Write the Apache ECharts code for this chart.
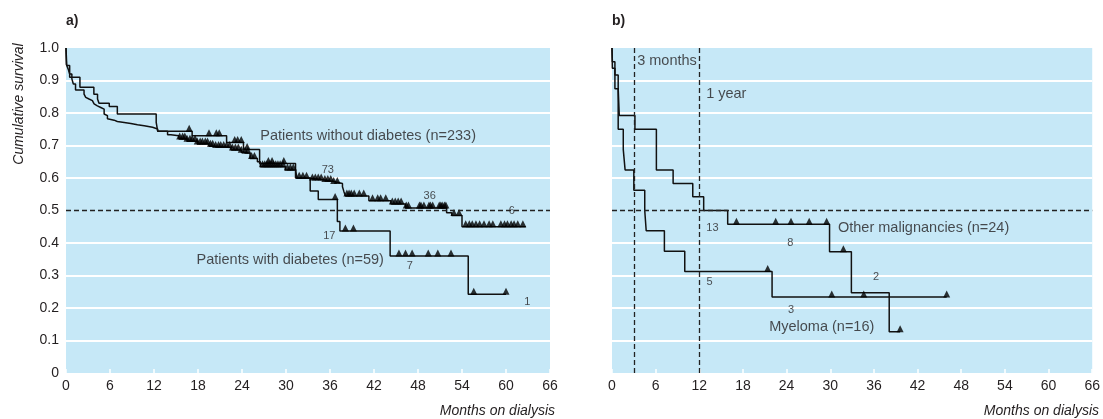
<!DOCTYPE html>
<html>
<head>
<meta charset="utf-8">
<script src="https://cdn.jsdelivr.net/npm/echarts@6/dist/echarts.min.js"></script>
<style>
html,body{margin:0;padding:0;background:#fff;}
#chart{width:1103px;height:419px;}
</style>
</head>
<body>
<div id="chart"></div>
<script>
// ---------------- DATA ----------------
const xTicks = [0, 6, 12, 18, 24, 30, 36, 42, 48, 54, 60, 66];
const yTicks = [0, 0.1, 0.2, 0.3, 0.4, 0.5, 0.6, 0.7, 0.8, 0.9, 1.0];

// Panel a: patients without diabetes (n=233) — [month, cumulative survival]
const noDiabSteps = [
  [0,1.0],[0.05,0.949],[0.3,0.935],[0.5,0.92],[0.8,0.905],[1.0,0.889],[1.3,0.871],
  [2.46,0.858],[2.69,0.848],[2.92,0.843],[3.14,0.838],[3.6,0.833],[3.83,0.828],
  [4.06,0.822],[4.28,0.817],[4.74,0.812],[5.2,0.797],[5.42,0.792],[5.65,0.782],
  [5.88,0.778],[6.56,0.774],[7.0,0.771],[7.93,0.768],[8.84,0.764],[9.75,0.761],
  [10.66,0.756],[11.8,0.751],[12.5,0.744],[13.85,0.733],[14.3,0.73],[15.4,0.72],
  [16.5,0.713],[17.9,0.705],[19.5,0.698],[20.2,0.694],[22.5,0.686],[23.9,0.679],
  [24.2,0.676],[25.1,0.66],[26.1,0.65],[26.5,0.635],[29.9,0.625],[31.3,0.62],
  [31.5,0.599],[33.3,0.594],[35.2,0.589],[36.5,0.583],[37.7,0.573],[37.9,0.558],
  [38.1,0.545],[41.3,0.53],[44.3,0.52],[46.3,0.508],[51.9,0.493],[52.6,0.485],
  [54.0,0.45],[62.7,0.45]
];
const noDiabCensored = [
  15.5,15.9,16.2,16.5,16.9,17.2,17.6,17.9,18.3,18.6,19.0,19.3,19.7,20.0,20.4,20.8,
  21.1,21.5,21.9,22.3,22.7,23.1,23.5,23.9,24.4,24.8,25.3,25.7,26.8,27.1,27.4,27.7,
  28.0,28.3,28.6,28.9,29.2,29.6,30.2,30.6,31.0,31.8,32.3,32.8,33.6,34.0,34.4,34.8,
  35.3,35.7,36.1,36.5,37.0,38.3,38.6,38.9,39.3,40.0,40.6,41.8,42.5,42.9,43.6,44.5,
  44.9,45.3,45.7,46.4,46.7,48.2,48.4,48.8,49.5,49.7,50.0,50.9,51.1,51.3,51.6,51.8,
  52.9,53.6,54.5,55.0,55.4,55.9,56.4,57.0,57.7,58.2,59.3,59.8,60.2,60.7,61.1,61.6,62.3
];

// Panel a: patients with diabetes (n=59)
const diabSteps = [
  [0,1.0],[0.1,0.946],[0.5,0.91],[1.9,0.879],[3.8,0.858],[4.3,0.843],[4.5,0.83],
  [5.9,0.82],[7.0,0.797],[12.3,0.771],[12.5,0.744],[17.2,0.73],[21.9,0.709],
  [24.2,0.688],[26.4,0.645],[31.3,0.6],[33.3,0.56],[34.4,0.534],[37.0,0.466],
  [37.35,0.437],[44.2,0.36],[54.85,0.242],[60.0,0.242]
];
const diabCensored = [16.8,19.5,20.5,20.9,23.0,23.4,23.9,24.7,27.6,28.1,29.7,36.7,38.1,39.2,45.4,46.3,47.2,49.4,50.7,52.5,55.6,60.0];

// Panel b: other malignancies (n=24)
const otherSteps = [
  [0,1.0],[0.05,0.958],[0.4,0.917],[0.85,0.875],[1.0,0.792],[3.15,0.75],[6.1,0.625],
  [8.4,0.583],[11.1,0.542],[12.6,0.5],[15.9,0.458],[29.9,0.373],[32.9,0.247],
  [38.1,0.127],[39.6,0.127]
];
const otherCensored = [17.1,22.5,24.6,27.1,29.5,31.8,39.6];

// Panel b: myeloma (n=16)
const myelomaSteps = [
  [0,1.0],[0.05,0.9375],[0.4,0.875],[0.85,0.75],[1.55,0.6875],[1.8,0.625],[3.0,0.5625],
  [4.5,0.5],[4.7,0.4375],[7.2,0.375],[10.0,0.3125],[22.0,0.234],[46.0,0.234]
];
const myelomaCensored = [21.4,30.2,34.6,46.0];

// Reference lines
const medianLine = 0.5;
const milestoneMonths = [3, 12];

// Annotations: [month, survival, text, align, size]
const annotationsA = [
  [26.5,0.728,'Patients without diabetes (n=233)','left',14.5],
  [35.7,0.624,'73','center',11],
  [49.6,0.544,'36','center',11],
  [60.8,0.498,'6','center',11],
  [35.9,0.423,'17','center',11],
  [17.8,0.349,'Patients with diabetes (n=59)','left',14.5],
  [46.9,0.33,'7','center',11],
  [62.9,0.22,'1','center',11]
];
const annotationsB = [
  [3.46,0.959,'3 months','left',14.5],
  [12.94,0.86,'1 year','left',14.5],
  [13.8,0.447,'13','center',11],
  [31.06,0.447,'Other malignancies (n=24)','left',14.5],
  [24.5,0.40,'8','center',11],
  [36.3,0.297,'2','center',11],
  [13.4,0.279,'5','center',11],
  [24.6,0.194,'3','center',11],
  [21.6,0.143,'Myeloma (n=16)','left',14.5]
];

// ---------------- CHART ----------------
const FONT = "'Liberation Sans',Arial,Helvetica,sans-serif";
const TXT = '#231f20';
const BLUE = '#c6e8f7';

function valueAt(steps, t) {
  let v = steps[0][1];
  for (const [x, y] of steps) { if (x <= t + 1e-9) v = y; else break; }
  return v;
}
function censorPoints(steps, times) { return times.map(t => [t, valueAt(steps, t)]); }

const splitColors = yTicks.map(v => (Math.abs(v - medianLine) < 1e-9 || v >= 1 || v === 0) ? 'rgba(0,0,0,0)' : '#ffffff');

function makeX(idx) {
  return {
    gridIndex: idx, type: 'value', min: xTicks[0], max: xTicks[xTicks.length-1], interval: 6,
    axisLine: {show: false},
    axisTick: {show: true, inside: true, length: 4, lineStyle: {color: '#ffffff', width: 1.5}},
    axisLabel: {show: true, color: TXT, fontFamily: FONT, fontSize: 14, margin: 6},
    splitLine: {show: false}
  };
}
function makeY(idx, showLabels) {
  return {
    gridIndex: idx, type: 'value', min: 0, max: 1, interval: 0.1,
    axisLine: {show: false}, axisTick: {show: false},
    axisLabel: {show: showLabels, color: TXT, fontFamily: FONT, fontSize: 14, margin: 7,
      formatter: v => v === 0 ? '0' : v.toFixed(1)},
    splitLine: {show: true, lineStyle: {color: splitColors, width: 2}}
  };
}
function stepSeries(idx, steps) {
  return {type: 'line', xAxisIndex: idx, yAxisIndex: idx, data: steps, step: 'end',
    showSymbol: false, symbol: 'none', z: 3, silent: true,
    lineStyle: {color: '#111', width: 1.5}};
}
function censorSeries(idx, steps, times) {
  return {type: 'scatter', xAxisIndex: idx, yAxisIndex: idx, data: censorPoints(steps, times),
    symbol: 'triangle', symbolSize: [7, 7], symbolOffset: [0, -3], z: 4, silent: true,
    itemStyle: {color: '#000'}};
}
function annotationSeries(idx, list) {
  return {type: 'scatter', xAxisIndex: idx, yAxisIndex: idx, symbolSize: 1, z: 5, silent: true,
    itemStyle: {color: 'rgba(0,0,0,0)'},
    data: list.map(a => ({value: [a[0], a[1]], name: a[2],
      label: {align: a[3], fontSize: a[4]}})),
    label: {show: true, position: 'inside', formatter: '{b}', color: TXT, fontFamily: FONT,
      verticalAlign: 'middle'}};
}
const dashStyle = {color: '#222', width: 1.3, type: [5, 3]};

const option = {
  animation: false,
  backgroundColor: '#ffffff',
  grid: [
    {left: 66, top: 48, width: 484, height: 325, show: true, backgroundColor: BLUE, borderWidth: 0},
    {left: 612, top: 48, width: 484, height: 325, show: true, backgroundColor: BLUE, borderWidth: 0}
  ],
  xAxis: [makeX(0), makeX(1)],
  yAxis: [makeY(0, true), makeY(1, false)],
  series: [
    Object.assign(stepSeries(0, diabSteps), {
      markLine: {silent: true, symbol: 'none', label: {show: false}, lineStyle: dashStyle,
        data: [{yAxis: medianLine}]}
    }),
    stepSeries(0, noDiabSteps),
    censorSeries(0, noDiabSteps, noDiabCensored),
    censorSeries(0, diabSteps, diabCensored),
    annotationSeries(0, annotationsA),
    Object.assign(stepSeries(1, otherSteps), {
      markLine: {silent: true, symbol: 'none', label: {show: false}, lineStyle: dashStyle,
        data: [{yAxis: medianLine}].concat(milestoneMonths.map(m => ({xAxis: m})))}
    }),
    stepSeries(1, myelomaSteps),
    censorSeries(1, otherSteps, otherCensored),
    censorSeries(1, myelomaSteps, myelomaCensored),
    annotationSeries(1, annotationsB)
  ],
  graphic: [
    {type: 'text', x: 66, y: 21, silent: true,
      style: {text: 'a)', fill: TXT, font: "bold 14px " + FONT, verticalAlign: 'middle', align: 'left'}},
    {type: 'text', x: 612, y: 21, silent: true,
      style: {text: 'b)', fill: TXT, font: "bold 14px " + FONT, verticalAlign: 'middle', align: 'left'}},
    {type: 'text', x: 19, y: 104, rotation: Math.PI / 2, silent: true,
      style: {text: 'Cumulative survival', fill: TXT, font: "italic 14px " + FONT, verticalAlign: 'middle', align: 'center'}},
    {type: 'text', x: 555, y: 411, silent: true,
      style: {text: 'Months on dialysis', fill: TXT, font: "italic 14px " + FONT, verticalAlign: 'middle', align: 'right'}},
    {type: 'text', x: 1099, y: 411, silent: true,
      style: {text: 'Months on dialysis', fill: TXT, font: "italic 14px " + FONT, verticalAlign: 'middle', align: 'right'}}
  ]
};

const chart = echarts.init(document.getElementById('chart'), null, {renderer: 'canvas'});
chart.setOption(option);
</script>
</body>
</html>
